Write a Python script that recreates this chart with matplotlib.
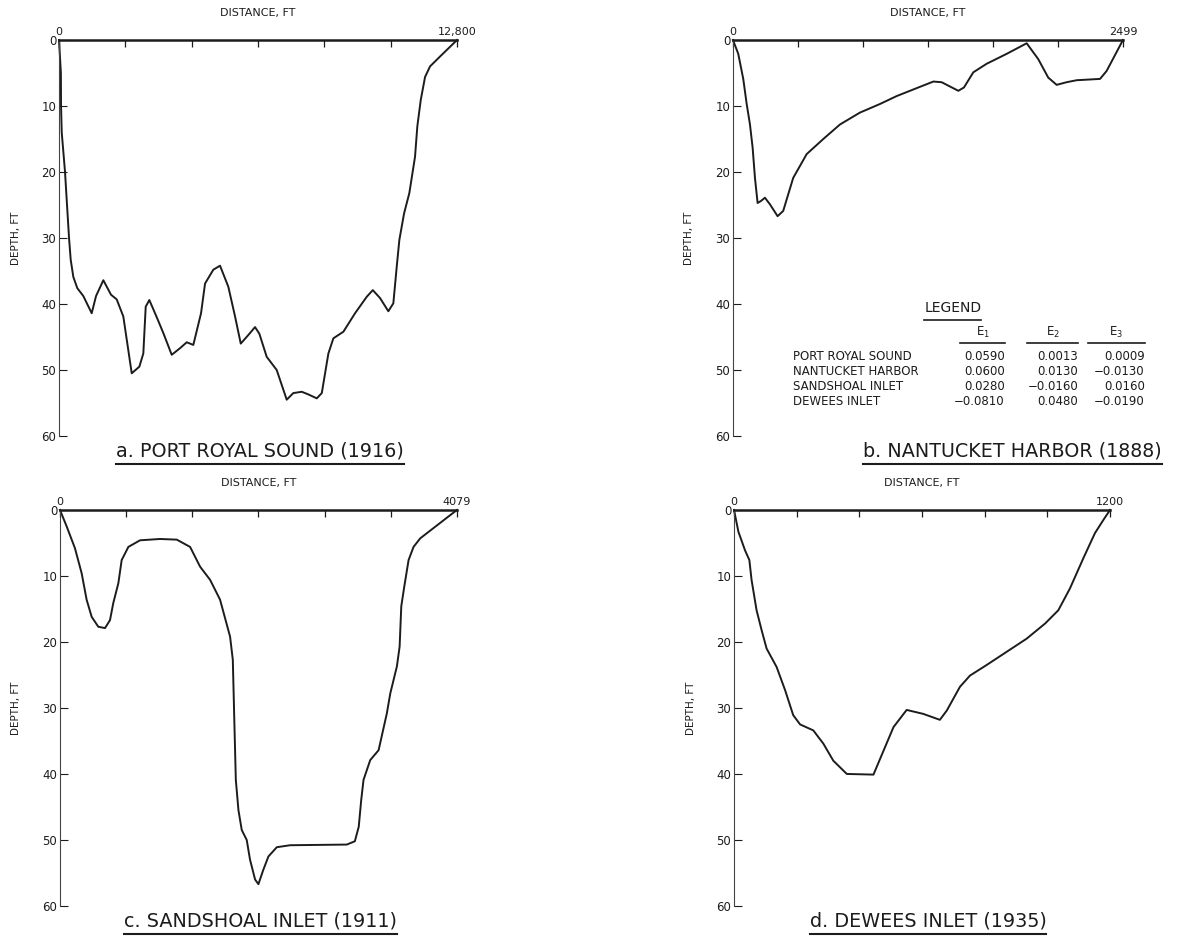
import matplotlib
matplotlib.use("Agg")
import matplotlib.pyplot as plt
from matplotlib.lines import Line2D

plt.rcParams['font.family'] = ['DejaVu Sans']

# channel cross sections: distance from left bank (ft) and depth (ft)
port_royal_x = [0, 60, 65, 87, 193, 247, 322, 376, 460, 588, 782, 1051, 1190, 1425,
                1672, 1855, 2068, 2338, 2583, 2711, 2788, 2904, 3142, 3354, 3624,
                3891, 4107, 4319, 4567, 4696, 4963, 5178, 5445, 5661, 5844, 6088,
                6303, 6442, 6678, 7000, 7322, 7534, 7805, 8017, 8289, 8450, 8662,
                8823, 9145, 9520, 9897, 10090, 10323, 10590, 10751, 10861, 10944,
                11095, 11265, 11448, 11522, 11632, 11771, 11932, 12254, 12800]
port_royal_d = [0, 5, 10, 14, 20, 24.2, 30, 33.3, 35.9, 37.6, 38.8, 41.4, 38.8, 36.4,
                38.6, 39.3, 41.9, 50.5, 49.5, 47.5, 40.4, 39.4, 42.0, 44.4, 47.7,
                46.7, 45.8, 46.2, 41.4, 36.9, 34.8, 34.2, 37.4, 41.9, 46.0, 44.7,
                43.5, 44.5, 48.0, 50.0, 54.5, 53.5, 53.3, 53.7, 54.3, 53.5, 47.5,
                45.2, 44.2, 41.4, 38.9, 37.9, 39.1, 41.1, 39.9, 34.3, 30.3,
                26.3, 23.2, 17.7, 13.1, 9.1, 5.6, 4.0, 2.5, 0]

nantucket_x = [0, 34, 66, 88, 109, 126, 141, 158, 179, 205, 237, 286, 322, 386, 472,
               579, 686, 814, 942, 1049, 1177, 1284, 1337, 1444, 1480, 1540, 1626,
               1754, 1882, 1956, 2020, 2074, 2138, 2202, 2352, 2394, 2499]
nantucket_d = [0, 2.1, 5.9, 9.7, 12.8, 16.3, 20.9, 24.7, 24.4, 23.9, 24.9, 26.7, 25.9,
               20.9, 17.3, 15.0, 12.8, 11.0, 9.7, 8.5, 7.3, 6.3, 6.4, 7.7, 7.2, 4.9,
               3.6, 2.1, 0.5, 2.9, 5.7, 6.8, 6.4, 6.1, 5.9, 4.7, 0]

sandshoal_x = [0, 69, 154, 223, 274, 326, 394, 463, 514, 548, 600, 634, 703, 823,
               1028, 1200, 1337, 1440, 1543, 1645, 1748, 1776, 1793, 1807, 1834,
               1868, 1919, 1953, 2005, 2039, 2090, 2142, 2228, 2365, 2947, 3030,
               3070, 3095, 3119, 3188, 3274, 3359, 3394, 3462, 3490, 3507, 3538,
               3582, 3633, 3702, 4079]
sandshoal_d = [0, 2.5, 5.8, 9.6, 13.6, 16.2, 17.7, 17.9, 16.7, 14.1, 11.1, 7.6, 5.6,
               4.6, 4.4, 4.5, 5.6, 8.6, 10.6, 13.6, 19.2, 22.7, 32.8, 40.9, 45.5,
               48.5, 50.0, 53.0, 56.0, 56.7, 54.5, 52.5, 51.1, 50.8, 50.7, 50.2,
               48.0, 44.0, 40.9, 37.9, 36.4, 30.8, 27.8, 23.7, 20.7, 14.6, 11.6,
               7.6, 5.6, 4.3, 0]

dewees_x = [0, 14, 35, 49, 56, 72, 88, 104, 136, 163, 189, 211, 253, 285, 317, 360,
            445, 477, 509, 551, 604, 657, 679, 721, 753, 806, 870, 934, 993, 1035,
            1072, 1115, 1152, 1179, 1200]
dewees_d = [0, 3.3, 6.1, 7.6, 10.6, 15.2, 18.2, 21.0, 23.8, 27.3, 31.1, 32.5, 33.4,
            35.4, 38.0, 40.0, 40.1, 36.5, 32.9, 30.3, 30.9, 31.8, 30.4, 26.8, 25.1,
            23.5, 21.5, 19.5, 17.2, 15.2, 11.9, 7.3, 3.5, 1.5, 0]

panel_titles = ['a. PORT ROYAL SOUND (1916)', 'b. NANTUCKET HARBOR (1888)',
                'c. SANDSHOAL INLET (1911)', 'd. DEWEES INLET (1935)']
max_labels = ['12,800', '2499', '4079', '1200']

# coefficient table
legend_rows = ['PORT ROYAL SOUND', 'NANTUCKET HARBOR', 'SANDSHOAL INLET', 'DEWEES INLET']
legend_cols = ['$\\mathregular{E_1}$', '$\\mathregular{E_2}$', '$\\mathregular{E_3}$']
e1 = ['0.0590', '0.0600', '0.0280', '\u22120.0810']
e2 = ['0.0013', '0.0130', '\u22120.0160', '0.0480']
e3 = ['0.0009', '\u22120.0130', '0.0160', '\u22120.0190']

ink = '#1c1c1c'

fig = plt.figure(figsize=(11.78, 9.36), dpi=100)
axa = fig.add_axes([0.0501, 0.5342, 0.3379, 0.4231])
axb = fig.add_axes([0.6222, 0.5342, 0.3311, 0.4231])
axc = fig.add_axes([0.0509, 0.0321, 0.3370, 0.4231])
axd = fig.add_axes([0.6231, 0.0321, 0.3192, 0.4231])
axes = [axa, axb, axc, axd]

series = [(port_royal_x, port_royal_d), (nantucket_x, nantucket_d),
          (sandshoal_x, sandshoal_d), (dewees_x, dewees_d)]

for ax, (xs, ds), xmax_lab in zip(axes, series, max_labels):
    xmax = xs[-1]
    ax.plot(xs, ds, color=ink, lw=1.4, clip_on=False, solid_joinstyle='round')
    ax.set_xlim(0, xmax)
    ax.set_ylim(60, 0)
    for s in ['right', 'bottom']:
        ax.spines[s].set_visible(False)
    ax.spines['top'].set_linewidth(1.8)
    ax.spines['top'].set_color(ink)
    ax.spines['left'].set_linewidth(0.8)
    ax.spines['left'].set_color('#444444')
    ax.xaxis.tick_top()
    ax.set_xticks([xmax * i / 6 for i in range(7)])
    ax.set_xticklabels(['0', '', '', '', '', '', xmax_lab])
    ax.tick_params(axis='x', direction='in', length=5, width=0.9, pad=2,
                   labelsize=8, colors=ink)
    ax.set_yticks(range(0, 61, 10))
    ax.tick_params(axis='y', direction='in', length=6, width=0.8, pad=2,
                   labelsize=8.5, colors=ink)
    ax.set_xlabel('DISTANCE, FT', fontsize=8, color=ink, labelpad=8)
    ax.xaxis.set_label_position('top')
    ax.set_ylabel('DEPTH, FT', fontsize=7.5, color=ink, labelpad=15)

# titles under each panel, underlined
title_pos = [(0.505, -0.037, 'center'), (1.10, -0.037, 'right'),
             (0.505, -0.037, 'center'), (0.516, -0.037, 'center')]
title_texts = []
for ax, title, (tx, ty, ha) in zip(axes, panel_titles, title_pos):
    t = ax.text(tx, ty, title, transform=ax.transAxes, ha=ha, va='center',
                fontsize=13.8, color=ink)
    title_texts.append((ax, t))

fig.canvas.draw()
renderer = fig.canvas.get_renderer()
for ax, t in title_texts:
    bb = t.get_window_extent(renderer).transformed(ax.transAxes.inverted())
    ax.add_line(Line2D([bb.x0, bb.x1], [bb.y0 - 0.010, bb.y0 - 0.010],
                       transform=ax.transAxes, color=ink, lw=1.5, clip_on=False))

# legend table inside panel b
lg = axb.text(0.564, 0.322, 'LEGEND', transform=axb.transAxes, ha='center',
              va='center', fontsize=10, color=ink)
fig.canvas.draw()
bb = lg.get_window_extent(renderer).transformed(axb.transAxes.inverted())
axb.add_line(Line2D([bb.x0, bb.x1], [bb.y0 - 0.012, bb.y0 - 0.012],
                    transform=axb.transAxes, color=ink, lw=1.2, clip_on=False))

col_centers = [0.640, 0.820, 0.983]
col_spans = [(0.582, 0.697), (0.754, 0.885), (0.910, 1.056)]
for name, cx, (c0, c1) in zip(legend_cols, col_centers, col_spans):
    axb.text(cx, 0.262, name, transform=axb.transAxes, ha='center', va='center',
             fontsize=8.5, color=ink)
    axb.add_line(Line2D([c0, c1], [0.236, 0.236], transform=axb.transAxes,
                        color=ink, lw=1.2, clip_on=False))

row_y = [0.2015, 0.1637, 0.126, 0.088]
for i, name in enumerate(legend_rows):
    axb.text(0.154, row_y[i], name, transform=axb.transAxes, ha='left',
             va='center', fontsize=8.5, color=ink)
    for col, (c0, c1) in zip([e1, e2, e3], col_spans):
        axb.text(c1, row_y[i], col[i], transform=axb.transAxes, ha='right',
                 va='center', fontsize=8.5, color=ink)

fig.savefig('out.png', dpi=100, facecolor='white')
